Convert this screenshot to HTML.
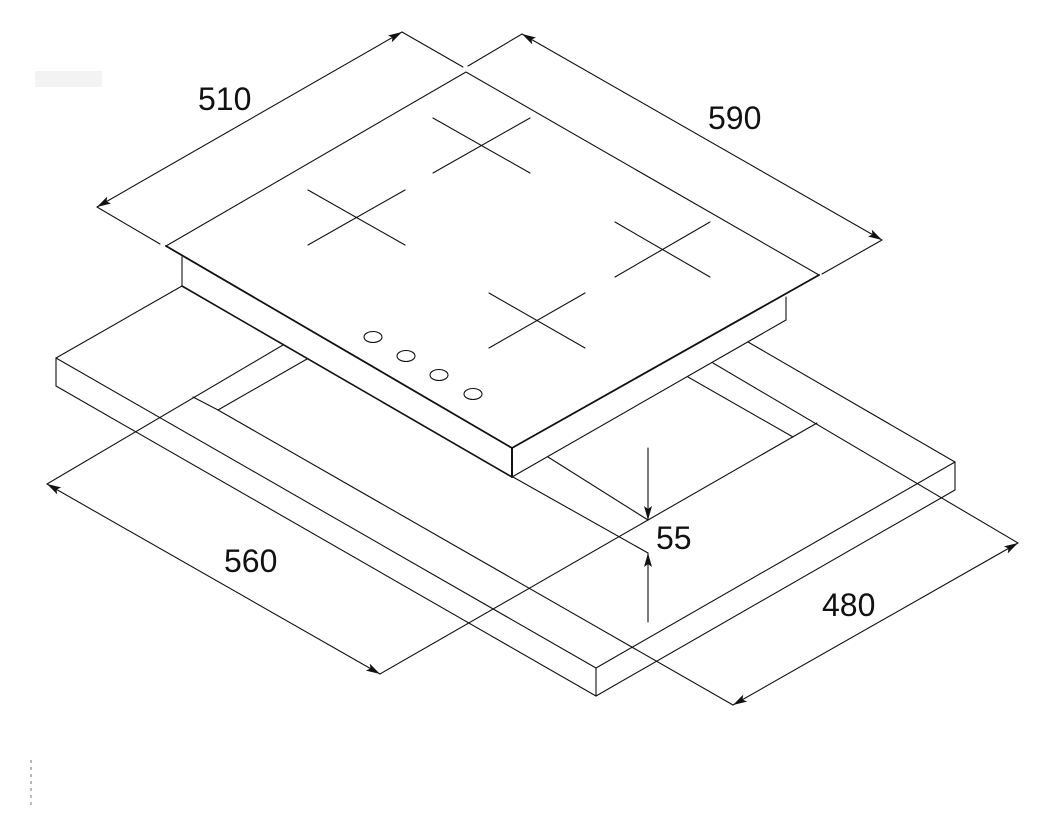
<!DOCTYPE html>
<html><head><meta charset="utf-8"><style>
html,body{margin:0;padding:0;background:#fff;}
svg{display:block;}
text{font-family:"Liberation Sans",sans-serif;font-size:32px;fill:#111;}
</style></head><body>
<svg width="1050" height="834" viewBox="0 0 1050 834" xmlns="http://www.w3.org/2000/svg">
<defs>
<marker id="a" viewBox="0 0 14 8" refX="14" refY="4" markerWidth="14" markerHeight="8" markerUnits="userSpaceOnUse" orient="auto-start-reverse">
<path d="M0,0 L14,4 L0,8 L3,4 z" fill="#111"/>
</marker>
</defs>
<rect x="35" y="71" width="67" height="16" fill="#f3f3f3"/>
<line x1="31" y1="760" x2="31" y2="806" stroke="#9aa4ad" stroke-width="1.5" stroke-dasharray="3,4"/>
<g stroke="#111" stroke-width="1.1" fill="none" stroke-linecap="round">
<!-- slab -->
<line x1="56" y1="358" x2="182" y2="286"/>
<line x1="56" y1="358" x2="56" y2="386"/>
<line x1="56" y1="358" x2="596" y2="668"/>
<line x1="56" y1="386" x2="596" y2="696"/>
<line x1="596" y1="668" x2="596" y2="696"/>
<line x1="596" y1="668" x2="955" y2="462"/>
<line x1="596" y1="696" x2="955" y2="490"/>
<line x1="955" y1="462" x2="955" y2="490"/>
<line x1="748" y1="342" x2="955" y2="462"/>
<!-- cutout -->
<line x1="307" y1="359" x2="218" y2="410"/>
<line x1="193" y1="397" x2="218" y2="410"/>
<line x1="688" y1="377" x2="793" y2="437"/>
<line x1="548" y1="457" x2="648" y2="520"/>
<line x1="513" y1="477" x2="648" y2="553"/>
<line x1="648" y1="520" x2="817" y2="423"/>
<!-- extension lines -->
<line x1="283" y1="345" x2="47" y2="484"/>
<line x1="380" y1="674" x2="648" y2="520"/>
<line x1="218" y1="410" x2="733" y2="705"/>
<line x1="713" y1="363" x2="1018" y2="543"/>
<line x1="402" y1="32" x2="463" y2="67"/>
<line x1="97" y1="207" x2="160" y2="244"/>
<line x1="522" y1="34" x2="468" y2="66"/>
<line x1="882" y1="240" x2="822" y2="274"/>
<!-- hob body -->
<line x1="182" y1="257" x2="182" y2="286"/>
<line x1="182" y1="286" x2="512" y2="477" stroke-width="1.6"/>
<line x1="512" y1="477" x2="786" y2="320"/>
<line x1="786" y1="297" x2="786" y2="320"/>
<line x1="512" y1="448" x2="512" y2="477" stroke-width="2"/>
<!-- hob top -->
<polygon points="166,246 466,72 819,275 512,448" fill="#fff"/>
<line x1="166" y1="246" x2="512" y2="448" stroke-width="1.8"/>
<line x1="512" y1="448" x2="819" y2="275" stroke-width="1.8"/>
<!-- burners -->
<line x1="433" y1="118" x2="530" y2="173"/><line x1="433" y1="173" x2="530" y2="118"/>
<line x1="308" y1="190" x2="405" y2="245"/><line x1="308" y1="245" x2="405" y2="190"/>
<line x1="615" y1="222" x2="710" y2="277"/><line x1="615" y1="277" x2="710" y2="222"/>
<line x1="489" y1="293" x2="585" y2="348"/><line x1="489" y1="348" x2="585" y2="293"/>
<!-- knobs -->
<ellipse cx="373" cy="337" rx="9" ry="5.5"/>
<ellipse cx="406" cy="356" rx="9" ry="5.5"/>
<ellipse cx="439" cy="375" rx="9" ry="5.5"/>
<ellipse cx="473" cy="394" rx="9" ry="5.5"/>
<!-- dimension lines -->
<line x1="97" y1="207" x2="402" y2="32" marker-start="url(#a)" marker-end="url(#a)"/>
<line x1="522" y1="34" x2="882" y2="240" marker-start="url(#a)" marker-end="url(#a)"/>
<line x1="47" y1="484" x2="380" y2="674" marker-start="url(#a)" marker-end="url(#a)"/>
<line x1="733" y1="705" x2="1018" y2="543" marker-start="url(#a)" marker-end="url(#a)"/>
<line x1="648" y1="448" x2="648" y2="520" marker-end="url(#a)"/>
<line x1="648" y1="622" x2="648" y2="553" marker-end="url(#a)"/>
</g>
<text x="198" y="110">510</text>
<text x="708" y="129">590</text>
<text x="224" y="572">560</text>
<text x="822" y="616">480</text>
<text x="656" y="549">55</text>
</svg>
</body></html>
